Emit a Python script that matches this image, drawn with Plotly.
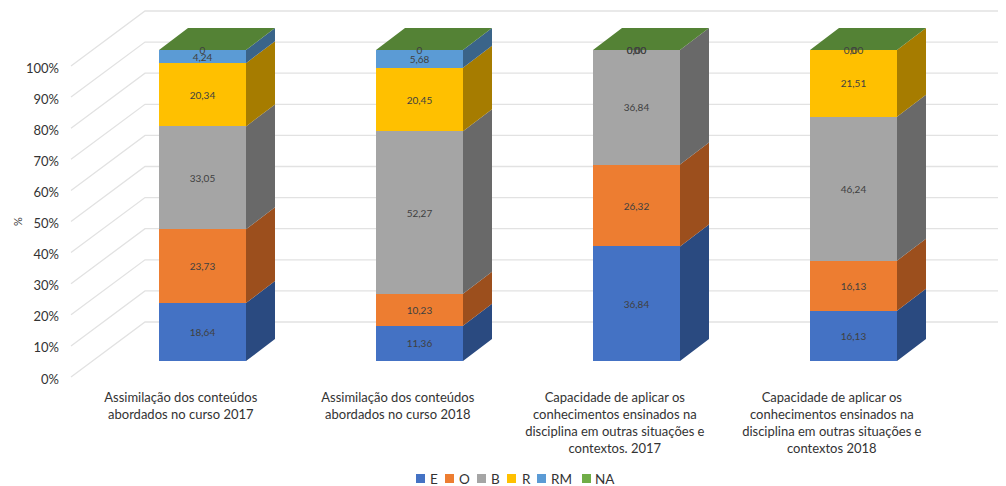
import plotly.graph_objects as go

categories = [
    "Assimilação dos conteúdos<br>abordados no curso 2017",
    "Assimilação dos conteúdos<br>abordados no curso 2018",
    "Capacidade de aplicar os<br>conhecimentos ensinados na<br>disciplina em outras situações e<br>contextos. 2017",
    "Capacidade de aplicar os<br>conhecimentos ensinados na<br>disciplina em outras situações e<br>contextos 2018",
]
E = [18.64, 11.36, 36.84, 16.13]
O = [23.73, 10.23, 26.32, 16.13]
B = [33.05, 52.27, 36.84, 46.24]
R = [20.34, 20.45, 0, 21.51]
RM = [4.24, 5.68, 0, 0]
NA = [0, 0, 0, 0]
series_names = ["E", "O", "B", "R", "RM", "NA"]
series_values = [E, O, B, R, RM, NA]
front_colors = ["#4472C4", "#ED7D31", "#A5A5A5", "#FFC000", "#5B9BD5", "#70AD47"]
side_colors = ["#2A4A80", "#9C4F1D", "#696969", "#A67C00", "#3A6489", "#548235"]
y_ticks = [0, 10, 20, 30, 40, 50, 60, 70, 80, 90, 100]

PAGE = 8  # the browser's default body margin; page pixels below are converted with it
W, H = 1006 - PAGE, 486 - PAGE
LEFT, BOTTOM_PX = 62 - PAGE, 388 - PAGE
PX_PER_PCT = 3.11
STEP = 217.0
X0_PX = 202.5 - PAGE
BAR_W = 87 / STEP
DX, DY = 29 / STEP, 22 / PX_PER_PCT
WALL_L = (71 - PAGE - X0_PX) / STEP
WALL_B = (145 - PAGE - X0_PX) / STEP
WALL_R = (W - X0_PX) / STEP
AXIS_ZERO_PX = 379  # where the 0% tick label is centred
GRID_FRONT_SHIFT = 2 / PX_PER_PCT
WALL_DY = 57 / PX_PER_PCT
LABEL_NUDGE = 1.5 / PX_PER_PCT
x_range = [(LEFT - X0_PX) / STEP, WALL_R]
y_range = [(AXIS_ZERO_PX - PAGE - BOTTOM_PX) / PX_PER_PCT, (AXIS_ZERO_PX - PAGE) / PX_PER_PCT]
y2_range = [(361 - PAGE - BOTTOM_PX) / PX_PER_PCT, (361 - PAGE) / PX_PER_PCT]
xs = list(range(len(categories)))
LABEL_SHIFT = -0.10


def paper_x(px):
    return (px - PAGE - LEFT) / (W - LEFT)


def paper_y(px):
    return 1 - (px - PAGE) / BOTTOM_PX


fig = go.Figure()

# Back wall and diagonal gridlines on the tick-label axis
gx, gy = [], []
for t in y_ticks:
    gx += [WALL_L, WALL_B, WALL_R, None]
    gy += [t + GRID_FRONT_SHIFT, t + WALL_DY, t + WALL_DY, None]
fig.add_trace(go.Scatter(x=gx, y=gy, mode="lines", line=dict(color="#E2E2E2", width=1.3),
                         showlegend=False, hoverinfo="skip", yaxis="y"))

# Front faces
for name, vals, col in zip(series_names, series_values, front_colors):
    fig.add_trace(go.Bar(x=xs, y=vals, name=name, width=BAR_W, marker=dict(color=col, line=dict(width=0)),
                         yaxis="y2", hoverinfo="name+y", showlegend=False))

# Side faces, top face and labels
base = [0.0] * len(xs)
lab_x, lab_y, lab_t = [], [], []
for k, (name, vals, side) in enumerate(zip(series_names, series_values, side_colors)):
    px_, py_ = [], []
    for i, v in enumerate(vals):
        s0, s1 = base[i], base[i] + v
        xr = i + BAR_W / 2
        if v > 0:
            px_ += [xr, xr + DX, xr + DX, xr, xr, None]
            py_ += [s0, s0 + DY, s1 + DY, s1, s0, None]
        lab_x.append(i)
        lab_y.append((s0 + s1) / 2 - LABEL_NUDGE)
        lab_t.append("0" if name == "NA" else f"{v:.2f}".replace(".", ","))
        base[i] = s1
    if px_:
        fig.add_trace(go.Scatter(x=px_, y=py_, mode="lines", fill="toself", fillcolor=side,
                                 line=dict(width=0, color=side), showlegend=False,
                                 hoverinfo="skip", yaxis="y2"))

tx, ty = [], []
for i in xs:
    xl = i - BAR_W / 2
    xr = i + BAR_W / 2
    tx += [xl, xr, xr + DX, xl + DX, xl, None]
    ty += [base[i], base[i], base[i] + DY, base[i] + DY, base[i], None]
fig.add_trace(go.Scatter(x=tx, y=ty, mode="lines", fill="toself", fillcolor=side_colors[-1],
                         line=dict(width=0, color=side_colors[-1]), showlegend=False,
                         hoverinfo="skip", yaxis="y2"))

fig.add_trace(go.Scatter(x=lab_x, y=lab_y, text=lab_t, mode="text", textposition="middle center",
                         textfont=dict(family="Lato", size=10, color="#404040"),
                         showlegend=False, hoverinfo="skip", yaxis="y2"))

# Compact legend, laid out like the reference
legend_swatch_px = [416, 445, 477, 507, 537, 582]
legend_text_px = [429, 458, 490, 520.5, 550, 594]
shapes, annotations = [], []
for name, col, sx, lx in zip(series_names, front_colors, legend_swatch_px, legend_text_px):
    shapes.append(dict(type="rect", xref="paper", yref="paper", x0=paper_x(sx), x1=paper_x(sx + 9),
                       y0=paper_y(483), y1=paper_y(474), fillcolor=col, line=dict(width=0)))
    annotations.append(dict(text=name, xref="paper", yref="paper", x=paper_x(lx), y=paper_y(478.5),
                            xanchor="left", yanchor="middle", showarrow=False,
                            borderpad=0, font=dict(size=13.5, color="#333333")))
annotations.append(dict(text="%", xref="paper", yref="paper", x=paper_x(17), y=paper_y(222),
                        xanchor="center", yanchor="middle", showarrow=False, textangle=-90,
                        font=dict(size=11, color="#404040")))

fig.update_layout(
    width=W, height=H, autosize=False,
    margin=dict(l=LEFT, r=0, t=0, b=H - BOTTOM_PX, pad=0, autoexpand=False),
    barmode="stack", bargap=0, showlegend=False,
    paper_bgcolor="white", plot_bgcolor="white",
    font=dict(family="Lato", color="#333333"),
    xaxis=dict(range=x_range, tickmode="array", tickvals=[i + LABEL_SHIFT for i in xs], ticktext=categories,
               showgrid=False, zeroline=False, showline=False, ticks="", tickangle=0,
               tickfont=dict(size=13, color="#333333"), fixedrange=True),
    yaxis=dict(range=y_range, tickmode="array", tickvals=y_ticks, ticktext=[f"{t}%" for t in y_ticks],
               showgrid=False, zeroline=False, showline=False, ticks="", ticklabelstandoff=2,
               tickfont=dict(size=13, color="#333333"), fixedrange=True),
    yaxis2=dict(range=y2_range, overlaying="y", visible=False, fixedrange=True),
    shapes=shapes,
    annotations=annotations,
)
fig.write_html("out.html")
